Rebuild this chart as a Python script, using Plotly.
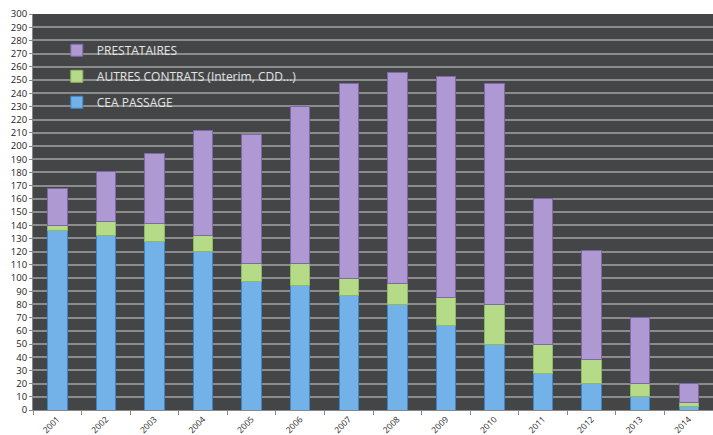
import plotly.graph_objects as go

years = ["2001", "2002", "2003", "2004", "2005", "2006", "2007",
         "2008", "2009", "2010", "2011", "2012", "2013", "2014"]
cea_passage = [136, 132, 128, 120, 97, 94, 87, 80, 64, 50, 28, 20, 10, 3]
autres_contrats = [4, 11, 13, 12, 14, 17, 13, 16, 21, 30, 22, 18, 10, 3]
prestataires = [28, 38, 53, 80, 98, 119, 147, 160, 168, 167, 110, 83, 50, 14]

fig = go.Figure()
fig.add_trace(go.Bar(x=years, y=cea_passage, name="CEA PASSAGE",
                     legendgroup="a", legendrank=3,
                     marker=dict(color="#72b2e9", line=dict(color="#3f86c8", width=1))))
fig.add_trace(go.Bar(x=years, y=autres_contrats, name="AUTRES CONTRATS (Interim, CDD...)",
                     legendgroup="b", legendrank=2,
                     marker=dict(color="#b5da88", line=dict(color="#8fb862", width=1))))
fig.add_trace(go.Bar(x=years, y=prestataires, name="PRESTATAIRES",
                     legendgroup="c", legendrank=1,
                     marker=dict(color="#ae99d3", line=dict(color="#7f68a8", width=1))))

fig.update_layout(
    width=713, height=435,
    barmode="stack", bargap=0.6,
    paper_bgcolor="white", plot_bgcolor="#434546",
    margin=dict(l=33, r=0, t=14, b=25),
    font=dict(family="Open Sans, Arial, sans-serif", color="#333333"),
    showlegend=True,
    legend=dict(x=0.035, y=0.945, xanchor="left", yanchor="top",
                traceorder="grouped", tracegroupgap=7,
                bgcolor="rgba(0,0,0,0)",
                font=dict(size=12, color="#e4e4e4", family="Open Sans, Arial, sans-serif")),
    xaxis=dict(showgrid=False, ticks="outside", tickson="boundaries",
               ticklen=4, tickcolor="#888888", showline=True, linecolor="#888888",
               tickangle=-45, tickfont=dict(size=8.5, color="#222222"),
               automargin=False),
    yaxis=dict(range=[0, 300], dtick=10, showgrid=True, gridcolor="#8c8c8c",
               gridwidth=1.5, zeroline=False, ticks="outside", ticklen=3,
               tickcolor="#888888", showline=True, linecolor="#888888",
               tickfont=dict(size=9.5, color="#222222"), automargin=False),
)

fig.write_html("out.html", config={"displayModeBar": False},
               post_script="document.body.style.margin='0';")
